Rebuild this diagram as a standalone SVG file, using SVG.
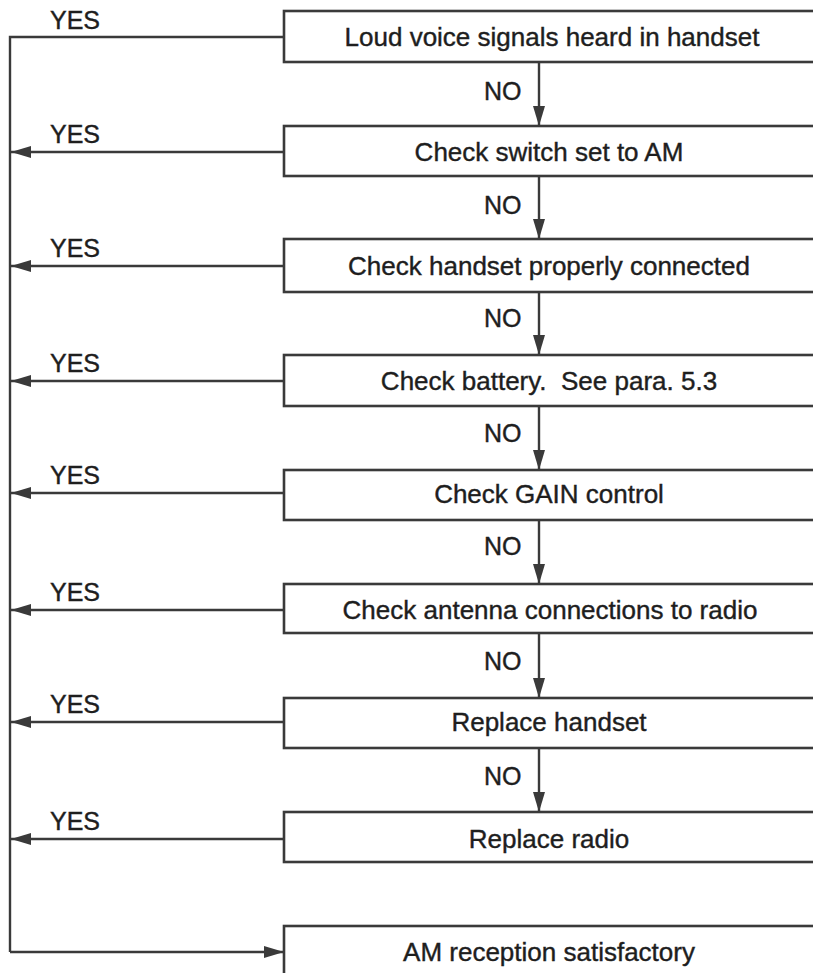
<svg xmlns="http://www.w3.org/2000/svg" width="813" height="973" viewBox="0 0 813 973">
<defs>
<marker id="ah" viewBox="0 0 20 12" refX="20" refY="6" markerWidth="20" markerHeight="12" markerUnits="userSpaceOnUse" orient="auto">
<path d="M0,0 L20,6 L0,12 z" fill="#3a3a3a"/>
</marker>
<style>
.box{fill:none;stroke:#3a3a3a;stroke-width:2.6}
.t{font-family:"Liberation Sans",Arial,sans-serif;font-size:26px;fill:#1e1e1e;stroke:#1e1e1e;stroke-width:0.4;text-anchor:middle}
.lb{font-family:"Liberation Sans",Arial,sans-serif;font-size:25px;fill:#1e1e1e;stroke:#1e1e1e;stroke-width:0.4}
.ln{fill:none;stroke:#3a3a3a;stroke-width:2.4}
.ar{fill:none;stroke:#3a3a3a;stroke-width:2.4;marker-end:url(#ah)}
</style>
</defs>
<rect width="813" height="973" fill="#fff"/>
<g id="n1"><rect class="box" x="284" y="11" width="540" height="51"/><text class="t" x="552" y="46">Loud voice signals heard in handset</text></g>
<g id="n2"><rect class="box" x="284" y="126" width="540" height="50"/><text class="t" x="549" y="161">Check switch set to AM</text></g>
<g id="n3"><rect class="box" x="284" y="239" width="540" height="53"/><text class="t" x="549" y="275">Check handset properly connected</text></g>
<g id="n4"><rect class="box" x="284" y="355" width="540" height="51"/><text class="t" x="549" y="390" xml:space="preserve">Check battery.  See para. 5.3</text></g>
<g id="n5"><rect class="box" x="284" y="470" width="540" height="50"/><text class="t" x="549" y="503">Check GAIN control</text></g>
<g id="n6"><rect class="box" x="284" y="584" width="540" height="49"/><text class="t" x="550" y="619">Check antenna connections to radio</text></g>
<g id="n7"><rect class="box" x="284" y="698" width="540" height="50"/><text class="t" x="549" y="731">Replace handset</text></g>
<g id="n8"><rect class="box" x="284" y="812" width="540" height="50"/><text class="t" x="549" y="848">Replace radio</text></g>
<g id="n9"><rect class="box" x="284" y="926" width="540" height="80"/><text class="t" x="549" y="961">AM reception satisfactory</text></g>
<g id="connectors">
<path class="ln" d="M284,37 H10 V952"/>
<path class="ar" d="M10,952 H284"/>
<path class="ar" d="M284,152 H11"/>
<path class="ar" d="M284,266 H11"/>
<path class="ar" d="M284,381 H11"/>
<path class="ar" d="M284,493 H11"/>
<path class="ar" d="M284,610 H11"/>
<path class="ar" d="M284,722 H11"/>
<path class="ar" d="M284,839 H11"/>
<path class="ar" d="M539,62 V126"/>
<path class="ar" d="M539,176 V239"/>
<path class="ar" d="M539,292 V355"/>
<path class="ar" d="M539,406 V470"/>
<path class="ar" d="M539,520 V584"/>
<path class="ar" d="M539,633 V698"/>
<path class="ar" d="M539,748 V812"/>
<g class="lb">
<text x="50" y="29">YES</text>
<text x="50" y="143">YES</text>
<text x="50" y="257">YES</text>
<text x="50" y="372">YES</text>
<text x="50" y="484">YES</text>
<text x="50" y="601">YES</text>
<text x="50" y="713">YES</text>
<text x="50" y="830">YES</text>
<text x="484" y="100">NO</text>
<text x="484" y="214">NO</text>
<text x="484" y="327">NO</text>
<text x="484" y="442">NO</text>
<text x="484" y="555">NO</text>
<text x="484" y="670">NO</text>
<text x="484" y="785">NO</text>
</g>
</g>
</svg>
